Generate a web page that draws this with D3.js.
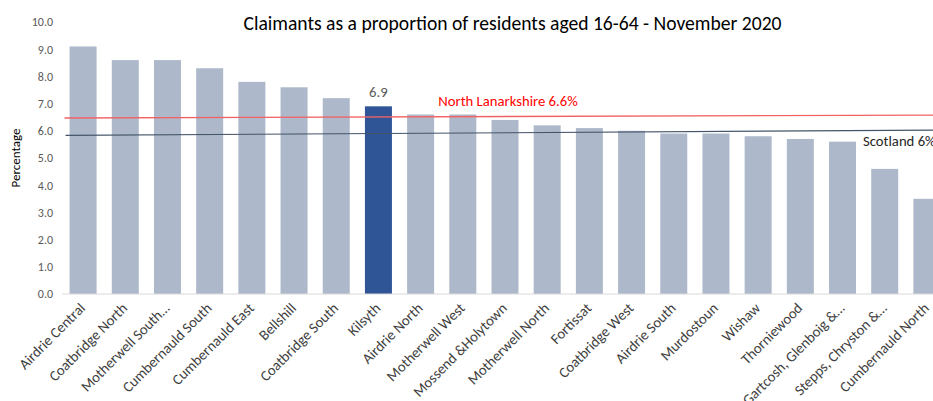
<!DOCTYPE html>
<html lang="en">
  <head>
    <meta charset="utf-8">
    <script src="https://d3js.org/d3.v7.min.js"></script>
    <style>
      body { margin: 0; background: #fff; }
      text { font-family: Carlito, Calibri, Lato, sans-serif; }
    </style>
  </head>
  <body>
    <svg width="933" height="401"></svg>
    <script>
      // ward names and claimant rates (%)
      var wards = ["Airdrie Central", "Coatbridge North", "Motherwell South…", "Cumbernauld South",
        "Cumbernauld East", "Bellshill", "Coatbridge South", "Kilsyth", "Airdrie North",
        "Motherwell West", "Mossend &Holytown", "Motherwell North", "Fortissat", "Coatbridge West",
        "Airdrie South", "Murdostoun", "Wishaw", "Thorniewood", "Gartcosh, Glenboig &…",
        "Stepps, Chryston &…", "Cumbernauld North"];
      var rates = [9.1, 8.6, 8.6, 8.3, 7.8, 7.6, 7.2, 6.9, 6.6, 6.6, 6.4, 6.2, 6.1, 6.0, 5.9, 5.9, 5.8, 5.7, 5.6, 4.6, 3.5];
      var yTicks = [0, 1, 2, 3, 4, 5, 6, 7, 8, 9, 10];
      // comparison lines, value at first and last ward
      var northLanLine = [6.47, 6.58];
      var scotlandLine = [5.83, 6.03];
      var highlight = "Kilsyth";

      var svg = d3.select("svg");

      var x = d3.scaleBand()
        .domain(wards)
        .range([62, 948])
        .paddingInner(0.36)
        .paddingOuter(0.18);
      var y = d3.scaleLinear()
        .domain([0, 10])
        .range([294, 22]);

      // title
      svg.append("text")
        .attr("x", 512.5)
        .attr("y", 30)
        .attr("text-anchor", "middle")
        .style("font-size", "19.6px")
        .style("fill", "#000")
        .text("Claimants as a proportion of residents aged 16-64 - November 2020");

      // y axis
      var yAxis = svg.append("g")
        .attr("transform", "translate(56,0)")
        .call(d3.axisLeft(y).tickValues(yTicks).tickSize(0).tickFormat(d3.format(".1f")));
      yAxis.select(".domain").remove();
      yAxis.selectAll("text")
        .style("font-size", "12px")
        .style("fill", "#595959");

      svg.append("text")
        .attr("transform", "translate(20,158) rotate(-90)")
        .attr("text-anchor", "middle")
        .style("font-size", "13px")
        .style("fill", "#000")
        .text("Percentage");

      // bars
      svg.append("g")
        .selectAll("rect")
        .data(wards)
        .enter().append("rect")
          .attr("x", function(d) { return x(d); })
          .attr("width", x.bandwidth())
          .attr("y", function(d, i) { return y(rates[i]); })
          .attr("height", function(d, i) { return y(0) - y(rates[i]); })
          .style("fill", function(d) { return d == highlight ? "#2F5597" : "#ADB9CA"; });

      // baseline
      svg.append("line")
        .attr("x1", 62).attr("x2", 933)
        .attr("y1", y(0)).attr("y2", y(0))
        .style("stroke", "#D9D9D9");

      // highlighted value
      var hi = wards.indexOf(highlight);
      svg.append("text")
        .attr("x", x(highlight) + x.bandwidth() / 2)
        .attr("y", y(rates[hi]) - 9)
        .attr("text-anchor", "middle")
        .style("font-size", "14.7px")
        .style("fill", "#595959")
        .text(rates[hi].toFixed(1));

      // comparison lines
      var first = x(wards[0]) - 5, last = 948;
      svg.append("line")
        .attr("x1", first).attr("x2", last)
        .attr("y1", y(northLanLine[0])).attr("y2", y(northLanLine[1]))
        .style("stroke", "#F26163")
        .style("stroke-width", 1.3);
      svg.append("line")
        .attr("x1", first + 1).attr("x2", last)
        .attr("y1", y(scotlandLine[0])).attr("y2", y(scotlandLine[1]))
        .style("stroke", "#44546A")
        .style("stroke-width", 1.1);

      svg.append("text")
        .attr("x", 508)
        .attr("y", 106)
        .attr("text-anchor", "middle")
        .style("font-size", "14.7px")
        .style("fill", "#FF0000")
        .text("North Lanarkshire 6.6%");
      svg.append("text")
        .attr("x", 863)
        .attr("y", 145.5)
        .style("font-size", "14.7px")
        .style("fill", "#262626")
        .text("Scotland 6%");

      // x labels
      svg.append("g")
        .selectAll("text")
        .data(wards)
        .enter().append("text")
          .attr("transform", function(d) {
            return "translate(" + (x(d) + x.bandwidth() / 2 + 3) + ",309) rotate(-45)";
          })
          .attr("text-anchor", "end")
          .style("font-size", "14.7px")
          .style("fill", "#404040")
          .text(function(d) { return d; });
    </script>
  </body>
</html>
